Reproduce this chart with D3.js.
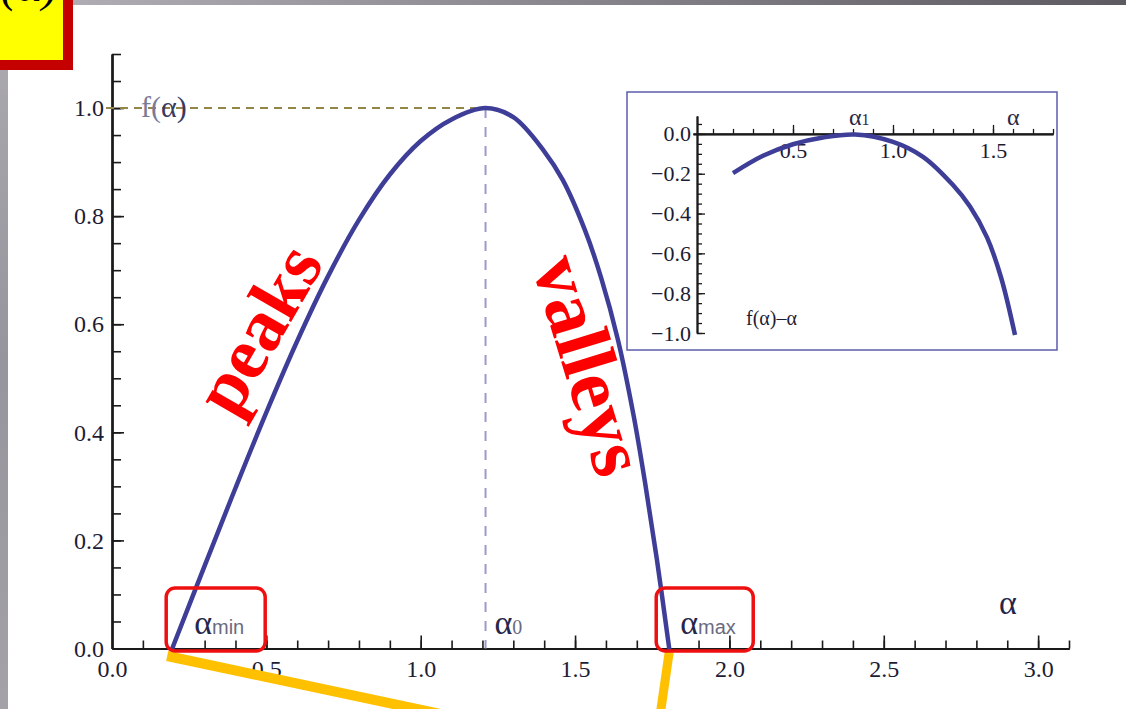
<!DOCTYPE html>
<html>
<head>
<meta charset="utf-8">
<script src="https://cdn.jsdelivr.net/npm/d3@7"></script>
<style>
  body { margin: 0; background: #fff; }
  svg { display: block; }
</style>
</head>
<body>
<svg id="chart" width="1126" height="709"></svg>
<script>
// main spectrum f(alpha)
var mainAlpha = [0.195, 0.30, 0.40, 0.50, 0.60, 0.70, 0.80, 0.90, 1.00, 1.10, 1.21,
                 1.30, 1.40, 1.46, 1.532, 1.585, 1.639, 1.69, 1.727, 1.765, 1.805]
var mainF     = [0.00, 0.153, 0.297, 0.437, 0.569, 0.689, 0.793, 0.877, 0.939, 0.979, 1.00,
                 0.983, 0.920, 0.867, 0.774, 0.685, 0.571, 0.43, 0.306, 0.165, 0.00]

// inset f(alpha) - alpha
var insetAlpha = [0.20, 0.35, 0.50, 0.65, 0.81, 1.00, 1.15, 1.30, 1.385, 1.47, 1.54, 1.61]
var insetG     = [-0.197, -0.11, -0.052, -0.018, -0.003, -0.04, -0.115, -0.257, -0.365, -0.52, -0.72, -1.01]

var mainXTicks = [0.0, 0.5, 1.0, 1.5, 2.0, 2.5, 3.0]
var mainYTicks = [0.0, 0.2, 0.4, 0.6, 0.8, 1.0]
var insetXTicks = [0.5, 1.0, 1.5]
var insetYTicks = [0.0, -0.2, -0.4, -0.6, -0.8, -1.0]

var alphaMin = 0.195, alpha0 = 1.21, alphaMax = 1.805

var svg = d3.select("#chart")
var font = "'Liberation Serif', 'Times New Roman', serif"
var curveColor = "#3e3e98"

// ---- slide decorations ----
var defs = svg.append("defs")
var gTop = defs.append("linearGradient").attr("id", "topbar")
gTop.append("stop").attr("offset", "0%").attr("stop-color", "#b6b2ba")
gTop.append("stop").attr("offset", "100%").attr("stop-color", "#5e5a62")
var gLeft = defs.append("linearGradient").attr("id", "leftbar")
  .attr("x1", 0).attr("y1", 0).attr("x2", 0).attr("y2", 1)
gLeft.append("stop").attr("offset", "0%").attr("stop-color", "#aeacb2")
gLeft.append("stop").attr("offset", "50%").attr("stop-color", "#96949c")
gLeft.append("stop").attr("offset", "100%").attr("stop-color", "#a4a2a8")

svg.append("rect").attr("x", 0).attr("y", 0).attr("width", 1126).attr("height", 5).attr("fill", "url(#topbar)")
svg.append("rect").attr("x", 0).attr("y", 0).attr("width", 8).attr("height", 709).attr("fill", "url(#leftbar)")
svg.append("rect")
  .attr("x", -10).attr("y", -10).attr("width", 78).attr("height", 75)
  .attr("fill", "#ffff00").attr("stroke", "#c40000").attr("stroke-width", 10)
svg.append("text")
  .attr("x", 58).attr("y", 1)
  .attr("text-anchor", "end")
  .attr("font-family", font).attr("font-style", "italic").attr("font-size", "48px")
  .attr("fill", "#000")
  .text("f(α)")

// ---- main plot ----
var x = d3.scaleLinear().domain([0, 3.1]).range([112, 1069])
var y = d3.scaleLinear().domain([0, 1.1]).range([648.5, 54])

var axisColor = "#1a1a1a"
var labelColor = "#1c1c34"

var gx = svg.append("g").attr("transform", "translate(0," + y(0) + ")")
gx.call(d3.axisBottom(x).tickValues(d3.range(1, 32).map(function(d) { return d / 10 }))
    .tickSize(-8).tickSizeOuter(0).tickFormat(""))
gx.append("g").call(d3.axisBottom(x).tickValues(mainXTicks.slice(1)).tickSize(-13).tickSizeOuter(0).tickFormat(""))
gx.append("g").call(d3.axisBottom(x).tickValues(mainXTicks).tickSize(0).tickPadding(11)
    .tickFormat(d3.format(".1f")))
gx.selectAll(".domain").attr("stroke", axisColor).attr("stroke-width", 2)
gx.selectAll("line").attr("stroke", axisColor).attr("stroke-width", 1.6)
gx.selectAll("text").attr("font-family", font).attr("font-size", "24px").attr("fill", labelColor)

var gy = svg.append("g").attr("transform", "translate(" + x(0) + ",0)")
gy.call(d3.axisLeft(y).tickValues(d3.range(1, 23).map(function(d) { return d / 20 }))
    .tickSize(-9).tickSizeOuter(0).tickFormat(""))
gy.append("g").call(d3.axisLeft(y).tickValues(mainYTicks.slice(1)).tickSize(-12).tickSizeOuter(0).tickFormat(""))
gy.append("g").call(d3.axisLeft(y).tickValues(mainYTicks).tickSize(0).tickPadding(8)
    .tickFormat(d3.format(".1f")))
gy.selectAll(".domain").attr("stroke", axisColor).attr("stroke-width", 2)
gy.selectAll("line").attr("stroke", axisColor).attr("stroke-width", 1.6)
gy.selectAll("text").attr("font-family", font).attr("font-size", "24px").attr("fill", labelColor)

// guide lines to the peak
svg.append("line")
  .attr("x1", x(0) - 6).attr("x2", x(alpha0)).attr("y1", y(1)).attr("y2", y(1))
  .attr("stroke", "#948646").attr("stroke-width", 2).attr("stroke-dasharray", "8,6")
svg.append("line")
  .attr("x1", x(alpha0)).attr("x2", x(alpha0)).attr("y1", y(1)).attr("y2", y(0))
  .attr("stroke", "#9a9acc").attr("stroke-width", 2).attr("stroke-dasharray", "10,9")

// y label f(alpha)
var fl = svg.append("text").attr("x", 141).attr("y", 117)
  .attr("font-family", font).attr("font-size", "30px")
fl.append("tspan").attr("fill", "#7a7a96").text("f(")
fl.append("tspan").attr("fill", "#3a3a5e").text("α)")

var pts = mainAlpha.map(function(a, i) { return [a, mainF[i]] })
var line = d3.line().x(function(d) { return x(d[0]) }).y(function(d) { return y(d[1]) })
  .curve(d3.curveCatmullRom.alpha(0.5))
svg.append("path").datum(pts).attr("d", line)
  .attr("fill", "none").attr("stroke", curveColor).attr("stroke-width", 4.5).attr("stroke-linecap", "round")

// yellow pointer lines
svg.append("line").attr("x1", x(alphaMin) - 5).attr("y1", 656).attr("x2", 450).attr("y2", 716)
  .attr("stroke", "#ffc000").attr("stroke-width", 10)
svg.append("line").attr("x1", x(alphaMax)).attr("y1", 652).attr("x2", 660).attr("y2", 716)
  .attr("stroke", "#ffc000").attr("stroke-width", 9)

// red boxes
svg.append("rect").attr("x", x(alphaMin) - 6).attr("y", 588).attr("width", 99).attr("height", 63)
  .attr("rx", 9).attr("fill", "none").attr("stroke", "#ee1010").attr("stroke-width", 3.5)
svg.append("rect").attr("x", x(alphaMax) - 13).attr("y", 588).attr("width", 97).attr("height", 63)
  .attr("rx", 9).attr("fill", "none").attr("stroke", "#ee1010").attr("stroke-width", 3.5)

function alphaLabel(px, sub) {
  var t = svg.append("text").attr("x", px).attr("y", 634).attr("font-family", font)
  t.append("tspan").attr("font-size", "34px").attr("fill", "#26264a").text("α")
  t.append("tspan").attr("font-size", "20px").attr("fill", "#6a6a80")
    .attr("font-family", sub == "0" ? font : "'Liberation Sans', Arial, sans-serif").text(sub)
}
alphaLabel(x(alphaMin) + 22, "min")
alphaLabel(x(alpha0) + 9, "0")
alphaLabel(x(alphaMax) + 11, "max")

svg.append("text").attr("x", 999).attr("y", 614)
  .attr("font-family", font).attr("font-size", "34px").attr("fill", "#26264a").text("α")

// peaks / valleys
svg.append("text")
  .attr("transform", "translate(258,329) rotate(-60)")
  .attr("text-anchor", "middle").attr("dominant-baseline", "central")
  .attr("font-family", font).attr("font-weight", "bold").attr("font-size", "74px")
  .attr("fill", "#ff0000").text("peaks")
svg.append("text")
  .attr("transform", "translate(590,365) rotate(73)")
  .attr("text-anchor", "middle").attr("dominant-baseline", "central")
  .attr("font-family", font).attr("font-weight", "bold").attr("font-size", "78px")
  .attr("fill", "#ff0000").text("valleys")

// ---- inset ----
svg.append("rect").attr("x", 627).attr("y", 92).attr("width", 430).attr("height", 258)
  .attr("fill", "#fff").attr("stroke", "#5c5cac").attr("stroke-width", 1.5)

var xi = d3.scaleLinear().domain([0, 1.8]).range([693, 1053])
var yi = d3.scaleLinear().domain([-1.0, 0.09]).range([333, 116])

var gxi = svg.append("g").attr("transform", "translate(0," + yi(0) + ")")
gxi.call(d3.axisBottom(xi).tickValues(d3.range(1, 19).map(function(d) { return d / 10 }))
    .tickSize(-5).tickSizeOuter(0).tickFormat(""))
gxi.append("g").call(d3.axisBottom(xi).tickValues(insetXTicks).tickSize(-9).tickSizeOuter(0).tickFormat(""))
gxi.append("g").call(d3.axisBottom(xi).tickValues(insetXTicks).tickSize(0).tickPadding(8)
    .tickFormat(d3.format(".1f")))
gxi.selectAll(".domain").attr("stroke", axisColor).attr("stroke-width", 1.6)

var gyi = svg.append("g").attr("transform", "translate(" + (xi(0) + 4) + ",0)")
gyi.call(d3.axisLeft(yi).tickValues(d3.range(-20, 2).map(function(d) { return d / 20 }))
    .tickSize(-5).tickSizeOuter(0).tickFormat(""))
gyi.append("g").call(d3.axisLeft(yi).tickValues(insetYTicks).tickSize(-8).tickSizeOuter(0).tickFormat(""))
gyi.append("g").call(d3.axisLeft(yi).tickValues(insetYTicks).tickSize(0).tickPadding(6)
    .tickFormat(function(d) { return d3.format(".1f")(d).replace("-", "−") }))
gyi.selectAll(".domain").attr("stroke", axisColor).attr("stroke-width", 1.6)

;[gxi, gyi].forEach(function(g) {
  g.selectAll("line").attr("stroke", axisColor).attr("stroke-width", 1.3)
  g.selectAll("text").attr("font-family", font).attr("font-size", "22px").attr("fill", labelColor)
})

var ipts = insetAlpha.map(function(a, i) { return [a, insetG[i]] })
var iline = d3.line().x(function(d) { return xi(d[0]) }).y(function(d) { return yi(d[1]) })
  .curve(d3.curveCatmullRom.alpha(0.5))
svg.append("path").datum(ipts).attr("d", iline)
  .attr("fill", "none").attr("stroke", curveColor).attr("stroke-width", 4.5)

var a1 = svg.append("text").attr("x", 849).attr("y", 125).attr("font-family", font)
a1.append("tspan").attr("font-size", "24px").attr("fill", "#2a2a4a").text("α")
a1.append("tspan").attr("font-size", "16px").attr("fill", "#2a2a4a").text("1")
svg.append("text").attr("x", 1007).attr("y", 125).attr("font-family", font)
  .attr("font-size", "24px").attr("fill", "#2a2a4a").text("α")
svg.append("text").attr("x", 746).attr("y", 325).attr("font-family", font)
  .attr("font-size", "20px").attr("fill", "#1c1c34").text("f(α)–α")
</script>
</body>
</html>
